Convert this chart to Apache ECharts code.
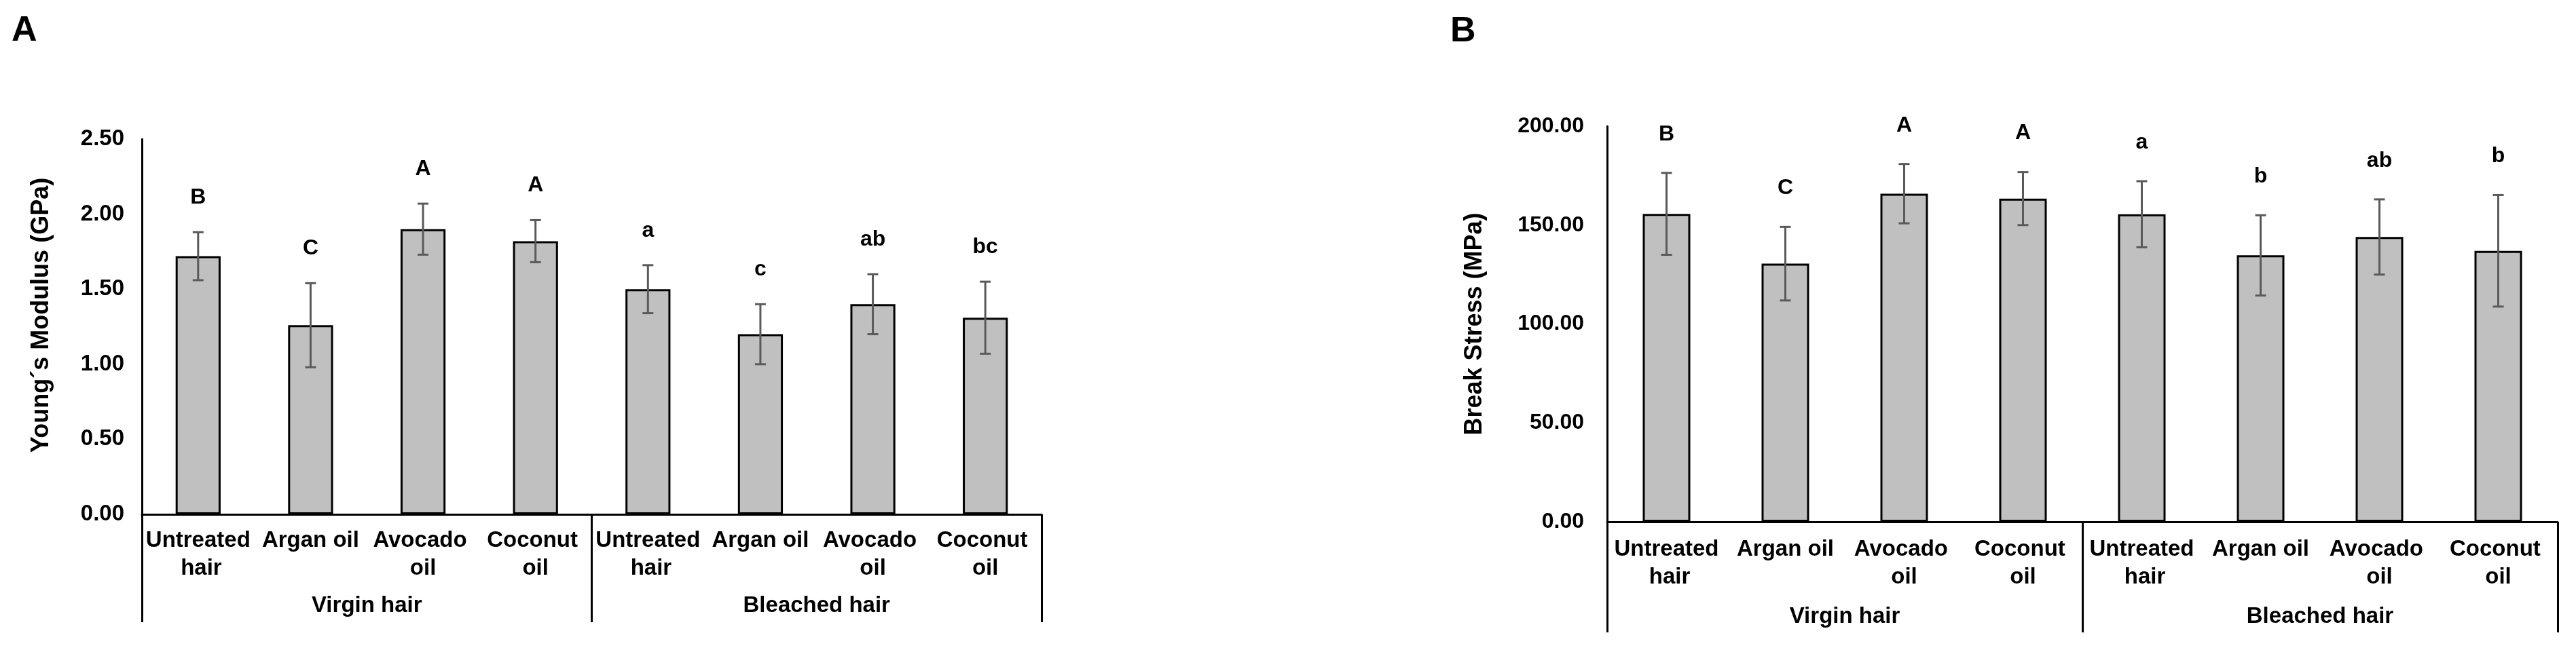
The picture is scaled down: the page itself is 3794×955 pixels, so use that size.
<!DOCTYPE html>
<html>
<head>
<meta charset="utf-8">
<script src="https://cdn.jsdelivr.net/npm/echarts@6/dist/echarts.min.js"></script>
<style>
html,body{margin:0;padding:0;background:#fff;}
#chart{width:3794px;height:955px;}
</style>
</head>
<body>
<div id="chart"></div>
<script>
// ---- data ----
const categories = ['Untreated hair', 'Argan oil', 'Avocado oil', 'Coconut oil',
                    'Untreated hair', 'Argan oil', 'Avocado oil', 'Coconut oil'];
const groups = ['Virgin hair', 'Bleached hair'];

const modulus = [1.72, 1.26, 1.90, 1.82, 1.50, 1.20, 1.40, 1.31];
const modulusErr = [0.16, 0.28, 0.17, 0.14, 0.16, 0.20, 0.20, 0.24];
const modulusLetters = ['B', 'C', 'A', 'A', 'a', 'c', 'ab', 'bc'];

const stress = [155.7, 130.5, 165.9, 163.4, 155.5, 134.7, 144.0, 137.0];
const stressErr = [20.7, 18.6, 15.0, 13.4, 16.7, 20.3, 19.0, 28.2];
const stressLetters = ['B', 'C', 'A', 'A', 'a', 'b', 'ab', 'b'];

const modulusAxis = { min: 0, max: 2.5, interval: 0.5 };
const stressAxis = { min: 0, max: 200, interval: 50 };

const panelLabels = ['A', 'B'];
const yTitles = ['Young´s Modulus (GPa)', 'Break Stress (MPa)'];

// ---- styling ----
const FONT = "'Liberation Sans', Arial, Helvetica, sans-serif";
const BAR_FILL = '#C0C0C0';
const ERR_COLOR = '#5A5A5A';

function errSeries(gridIdx, values, errs, letters, letterOffset) {
  return {
    type: 'custom',
    xAxisIndex: gridIdx * 2,
    yAxisIndex: gridIdx,
    z: 5,
    data: values.map((v, i) => [i, v, errs[i]]),
    encode: { x: 0, y: 1 },
    renderItem: function (params, api) {
      const x = api.value(0), v = api.value(1), e = api.value(2);
      const top = api.coord([x, v + e]);
      const bot = api.coord([x, v - e]);
      const cap = 8;
      const ls = { stroke: ERR_COLOR, lineWidth: 3 };
      return {
        type: 'group',
        children: [
          { type: 'line', shape: { x1: top[0], y1: top[1], x2: bot[0], y2: bot[1] }, style: ls },
          { type: 'line', shape: { x1: top[0] - cap, y1: top[1], x2: top[0] + cap, y2: top[1] }, style: ls },
          { type: 'line', shape: { x1: bot[0] - cap, y1: bot[1], x2: bot[0] + cap, y2: bot[1] }, style: ls },
          { type: 'text', x: top[0], y: top[1] - letterOffset,
            style: { text: letters[params.dataIndex], font: 'bold 32px ' + FONT, fill: '#000',
                     align: 'center', verticalAlign: 'middle' } }
        ]
      };
    }
  };
}

function catAxes(gridIdx, labelMargin, groupMargin, tickLen) {
  return [
    {
      type: 'category', gridIndex: gridIdx, position: 'bottom', data: categories,
      axisLine: { show: true, lineStyle: { color: '#000', width: 3 } },
      axisTick: { show: false },
      axisLabel: { interval: 0, margin: labelMargin, color: '#000', fontFamily: FONT,
                   fontWeight: 'bold', fontSize: 33, lineHeight: 41, width: 160, overflow: 'break' },
      splitLine: { show: false }
    },
    {
      type: 'category', gridIndex: gridIdx, position: 'bottom', data: groups,
      axisLine: { show: false },
      axisTick: { show: true, interval: 0, length: tickLen, lineStyle: { color: '#000', width: 3 } },
      axisLabel: { interval: 0, margin: groupMargin, color: '#000', fontFamily: FONT,
                   fontWeight: 'bold', fontSize: 33, lineHeight: 40 },
      splitLine: { show: false }
    }
  ];
}

function valAxis(gridIdx, ax, title, nameGap, labelMargin, fontSize, namePad) {
  return {
    type: 'value', gridIndex: gridIdx, min: ax.min, max: ax.max, interval: ax.interval,
    name: title, nameLocation: 'middle', nameGap: nameGap,
    nameTextStyle: { fontFamily: FONT, fontWeight: 'bold', fontSize: 36, color: '#000', padding: namePad },
    axisLine: { show: true, lineStyle: { color: '#000', width: 3 } },
    axisTick: { show: false },
    splitLine: { show: false },
    axisLabel: { margin: labelMargin, color: '#000', fontFamily: FONT, fontWeight: 'bold',
                 fontSize: fontSize, formatter: v => v.toFixed(2) }
  };
}

const chart = echarts.init(document.getElementById('chart'), null, { renderer: 'canvas' });
chart.setOption({
  backgroundColor: '#fff',
  animation: false,
  grid: [
    { left: 209, top: 205, width: 1325, height: 553 },
    { left: 2367, top: 186, width: 1400, height: 583 }
  ],
  xAxis: [].concat(catAxes(0, 18, 115, 159), catAxes(1, 20, 120, 163)),
  yAxis: [
    valAxis(0, modulusAxis, yTitles[0], 130, 26, 33, [0, 0, 0, 34]),
    valAxis(1, stressAxis, yTitles[1], 177, 34, 32, 0)
  ],
  graphic: [
    { type: 'text', left: 17, top: 20, style: { text: panelLabels[0], font: 'bold 52px ' + FONT, fill: '#000' } },
    { type: 'text', left: 2136, top: 21, style: { text: panelLabels[1], font: 'bold 52px ' + FONT, fill: '#000' } }
  ],
  series: [
    { type: 'bar', xAxisIndex: 0, yAxisIndex: 0, data: modulus, barWidth: '40%',
      itemStyle: { color: BAR_FILL, borderColor: '#000', borderWidth: 3 } },
    errSeries(0, modulus, modulusErr, modulusLetters, 51),
    { type: 'bar', xAxisIndex: 2, yAxisIndex: 1, data: stress, barWidth: '40%',
      itemStyle: { color: BAR_FILL, borderColor: '#000', borderWidth: 3 } },
    errSeries(1, stress, stressErr, stressLetters, 57)
  ]
});
</script>
</body>
</html>
